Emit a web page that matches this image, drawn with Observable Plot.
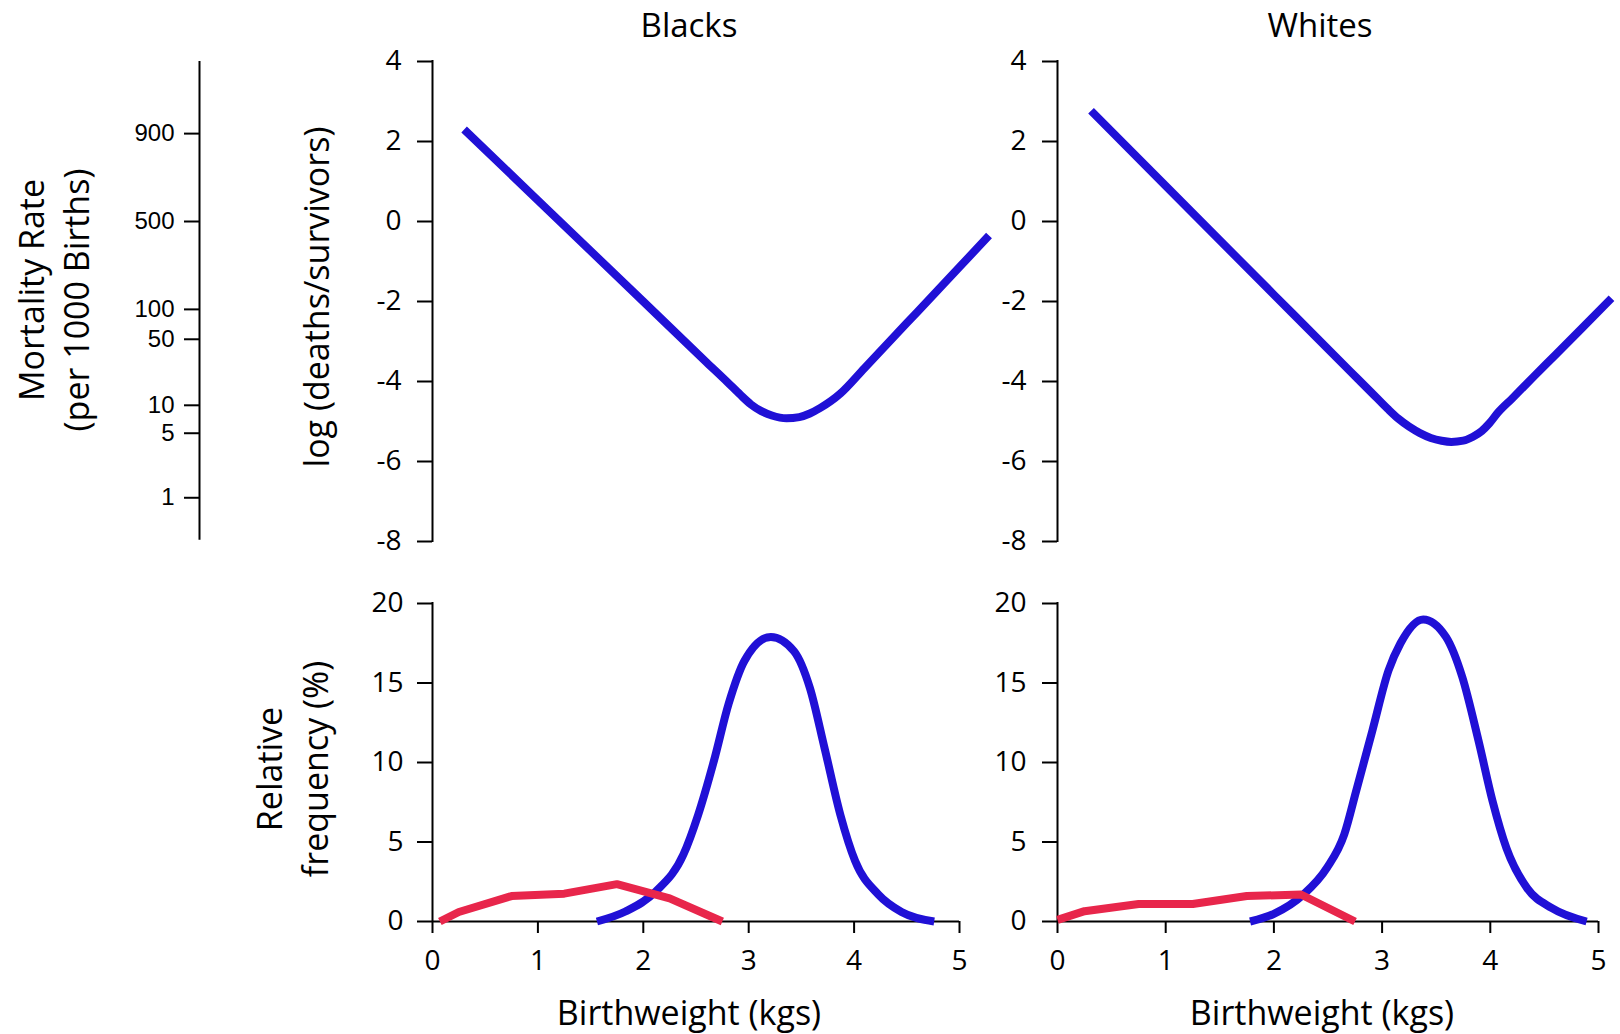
<!DOCTYPE html>
<html><head><meta charset="utf-8">
<script src="https://cdn.jsdelivr.net/npm/d3@7"></script>
<script src="https://cdn.jsdelivr.net/npm/@observablehq/plot@0.6"></script>
<style>
body{margin:0;background:#fff;}
#root{position:relative;width:1620px;height:1034px;background:#fff;font-family:"Open Sans",sans-serif;color:#000;overflow:hidden}
.p{position:absolute}
.lbl{position:absolute;white-space:nowrap;font-size:34px;line-height:1;transform:translate(-50%,-50%)}
.ttl{font-size:33px}
.rot{transform:translate(-50%,-50%) rotate(-90deg)}
</style></head><body><div id="root"></div>
<script>
// ---- data ----
const panelTitles = ["Blacks", "Whites"];
const logTicks = [-8, -6, -4, -2, 0, 2, 4];
const freqTicks = [0, 5, 10, 15, 20];
const weightTicks = [0, 1, 2, 3, 4, 5];
const mortalityTicks = [900, 500, 100, 50, 10, 5, 1];

// top: log(deaths/survivors) vs birthweight
const blackTopWeight = [0.30, 1.0, 2.0, 2.6, 2.8, 2.92, 3.02, 3.12, 3.22, 3.36, 3.48, 3.58, 3.68, 3.78, 3.87, 4.1, 4.3, 4.5, 4.7, 5.0, 5.28];
const blackTopLogit  = [2.30, 0.53, -2.00, -3.52, -4.02, -4.33, -4.57, -4.74, -4.85, -4.92, -4.89, -4.80, -4.66, -4.49, -4.30, -3.66, -3.10, -2.54, -1.98, -1.14, -0.35];
const whiteTopWeight = [0.31, 1.0, 2.0, 2.7, 2.9, 3.05, 3.15, 3.25, 3.35, 3.45, 3.55, 3.64, 3.75, 3.84, 3.92, 3.99, 4.07, 4.2, 4.4, 4.6, 4.85, 5.12];
const whiteTopLogit  = [2.77, 0.89, -1.83, -3.73, -4.27, -4.68, -4.93, -5.13, -5.29, -5.41, -5.48, -5.51, -5.48, -5.38, -5.24, -5.05, -4.78, -4.43, -3.88, -3.34, -2.66, -1.92];

// bottom: relative frequency (%)
const blackBlueWeight = [1.56, 1.83, 2.12, 2.38, 2.52, 2.67, 2.81, 2.96, 3.21, 3.43, 3.58, 3.72, 3.87, 4.01, 4.23, 4.45, 4.76];
const blackBlueFreq   = [0, 0.63, 1.9, 4.2, 6.7, 10.1, 13.7, 16.4, 17.9, 17.0, 14.7, 10.9, 6.7, 3.8, 1.7, 0.6, 0];
const blackRedWeight  = [0.07, 0.25, 0.75, 1.25, 1.75, 2.25, 2.75];
const blackRedFreq    = [0, 0.6, 1.6, 1.75, 2.35, 1.45, 0];
const whiteBlueWeight = [1.78, 2.00, 2.27, 2.49, 2.65, 2.76, 2.91, 3.06, 3.17, 3.38, 3.59, 3.74, 3.89, 4.02, 4.15, 4.34, 4.57, 4.89];
const whiteBlueFreq   = [0, 0.48, 1.68, 3.37, 5.47, 8.2, 12.0, 15.8, 17.5, 19.0, 17.9, 15.4, 11.4, 7.6, 4.6, 2.1, 0.84, 0];
const whiteRedWeight  = [0.0, 0.25, 0.75, 1.25, 1.75, 2.25, 2.75];
const whiteRedFreq    = [0.1, 0.65, 1.1, 1.1, 1.6, 1.7, 0];

const BLUE = "#2010d6", RED = "#e8264b";
const FONT = '"Open Sans", sans-serif';
const TICKFONT = 28;
const LW = 8;

const zip = (xs, ys) => xs.map((x, i) => ({x, y: ys[i]}));
const logit = r => Math.log(r / (1000 - r));
const root = document.getElementById("root");

function place(svg, left, top) {
  svg.classList.add("p");
  svg.style.left = left + "px";
  svg.style.top = top + "px";
  root.appendChild(svg);
}
function label(text, cx, cy, rotate, cls) {
  const d = document.createElement("div");
  d.className = "lbl" + (rotate ? " rot" : "") + (cls ? " " + cls : "");
  d.textContent = text;
  d.style.left = cx + "px";
  d.style.top = cy + "px";
  root.appendChild(d);
}
const style = {fontFamily: FONT, fontSize: TICKFONT + "px", color: "#000", background: "transparent", overflow: "visible"};

function topPanel(weights, logits, width, ml, mr, pad) {
  return Plot.plot({
    width, height: 560, marginLeft: ml, marginRight: mr, marginTop: 61, marginBottom: 19,
    style,
    x: {domain: [0, 5], axis: null},
    y: {domain: [-8, 4]},
    marks: [
      Plot.axisY({ticks: logTicks, tickFormat: d => String(d), tickSize: 15, tickPadding: pad, strokeWidth: 2, fontSize: TICKFONT, label: null}),
      Plot.ruleX([0], {y1: -8, y2: 4, strokeWidth: 2, strokeLinecap: "square"}),
      Plot.line(zip(weights, logits), {x: "x", y: "y", stroke: BLUE, strokeWidth: LW, curve: "monotone-x", strokeLinecap: "butt"})
    ]
  });
}
function bottomPanel(bw, bf, rw, rf, width, ml, mr, pad) {
  return Plot.plot({
    width, height: 474, marginLeft: ml, marginRight: mr, marginTop: 43, marginBottom: 113,
    style,
    x: {domain: [0, 5]},
    y: {domain: [0, 20]},
    marks: [
      Plot.axisY({ticks: freqTicks, tickFormat: d => String(d), tickSize: 15, tickPadding: pad, strokeWidth: 2, fontSize: TICKFONT, label: null}),
      Plot.axisX({ticks: weightTicks, tickFormat: d => String(d), tickSize: 12, tickPadding: 17, strokeWidth: 2, fontSize: TICKFONT, label: null}),
      Plot.ruleX([0], {y1: 0, y2: 20, strokeWidth: 2, strokeLinecap: "square"}),
      Plot.ruleY([0], {x1: 0, x2: 5, strokeWidth: 2}),
      Plot.line(zip(bw, bf), {x: "x", y: "y", stroke: BLUE, strokeWidth: LW, curve: "monotone-x", strokeLinecap: "butt"}),
      Plot.line(zip(rw, rf), {x: "x", y: "y", stroke: RED, strokeWidth: LW, curve: "linear", strokeLinecap: "butt"})
    ]
  });
}

// mortality-rate axis (logit scale)
place(Plot.plot({
  width: 260, height: 560, marginLeft: 199, marginRight: 0, marginTop: 61, marginBottom: 19,
  style: {...style, fontFamily: '"Liberation Sans", sans-serif', fontSize: "24px"},
  x: {domain: [0, 1], axis: null},
  y: {domain: [-8, 4]},
  marks: [
    Plot.axisY({ticks: mortalityTicks.map(logit), tickFormat: v => String(Math.round(1000 / (1 + Math.exp(-v)))), tickSize: 15, tickPadding: 10, strokeWidth: 2, fontSize: 24, label: null}),
    Plot.ruleX([0], {y1: -7.97, y2: 4, strokeWidth: 2})
  ]
}), 0, 0);

// Blacks
place(topPanel(blackTopWeight, blackTopLogit, 720, 132, 61, 16), 300, 0);
place(bottomPanel(blackBlueWeight, blackBlueFreq, blackRedWeight, blackRedFreq, 720, 132, 61, 14), 300, 560);
// Whites
place(topPanel(whiteTopWeight, whiteTopLogit, 680, 117, 22, 16), 940, 0);
place(bottomPanel(whiteBlueWeight, whiteBlueFreq, whiteRedWeight, whiteRedFreq, 680, 117, 22, 16), 940, 560);

// text labels
label(panelTitles[0], 689, 24, false, "ttl");
label(panelTitles[1], 1320, 24, false, "ttl");
label("Birthweight (kgs)", 689, 1012);
label("Birthweight (kgs)", 1322, 1012);
label("Mortality Rate", 31, 290, true);
label("(per 1000 Births)", 76, 300, true);
label("log (deaths/survivors)", 316, 297, true);
label("Relative", 269, 769, true);
label("frequency (%)", 315, 769, true);
</script></body></html>
